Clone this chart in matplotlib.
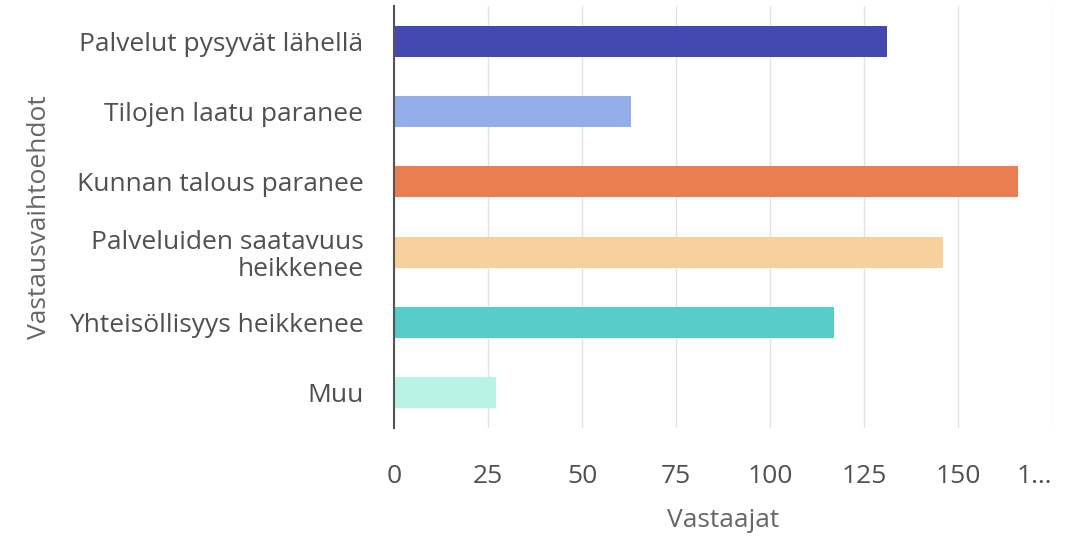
import matplotlib
matplotlib.use('Agg')
import matplotlib.pyplot as plt
from matplotlib.transforms import ScaledTranslation

# Data
kategoriat = ['Palvelut pysyvät lähellä', 'Tilojen laatu paranee', 'Kunnan talous paranee',
              'Palveluiden saatavuus\nheikkenee', 'Yhteisöllisyys heikkenee', 'Muu']
vastaajat = [131, 63, 166, 146, 117, 27]
varit = ['#4349b0', '#94aeea', '#e97e52', '#f8d09b', '#56cdc9', '#b9f2e6']
x_tikit = [0, 25, 50, 75, 100, 125, 150, 175]
x_tikkitekstit = ['0', '25', '50', '75', '100', '125', '150', '1…']

plt.rcParams['font.family'] = ['Open Sans', 'DejaVu Sans']
tekstivari = '#505050'
koko = 19

fig = plt.figure(figsize=(10.66, 5.4), dpi=100)
ax = fig.add_axes([394 / 1066, 1 - 428 / 540, (1052 - 394) / 1066, (428 - 6) / 540])

y = list(range(len(kategoriat)))
ax.barh(y, vastaajat, height=0.44, color=varit, zorder=3)

ax.set_ylim(len(kategoriat) - 0.5, -0.5)
ax.set_xlim(0, 175)
ax.set_yticks(y)
ax.set_yticklabels(kategoriat, fontsize=koko, color=tekstivari, linespacing=1.1)
ax.set_xticks(x_tikit)
ax.set_xticklabels(x_tikkitekstit, fontsize=koko, color=tekstivari)
viimeinen = ax.get_xticklabels()[-1]
viimeinen.set_horizontalalignment('right')
viimeinen.set_transform(viimeinen.get_transform() + ScaledTranslation(-0.1, 0, fig.dpi_scale_trans))
ax.tick_params(axis='y', length=0, pad=22)
ax.tick_params(axis='x', length=0, pad=26)

ax.grid(axis='x', color='#e3e3e3', linewidth=1, zorder=0)
for s in ['top', 'right', 'bottom']:
    ax.spines[s].set_visible(False)
ax.spines['left'].set_color('#555555')
ax.spines['left'].set_linewidth(1.5)
ax.spines['left'].set_zorder(4)

ax.set_xlabel('Vastaajat', fontsize=koko, color='#666666')
ax.xaxis.set_label_coords(0.5, -0.19)
ax.set_ylabel('Vastausvaihtoehdot', fontsize=koko, color='#666666')
ax.yaxis.set_label_coords(-0.52, 0.5)

plt.savefig('out.png', dpi=100)
